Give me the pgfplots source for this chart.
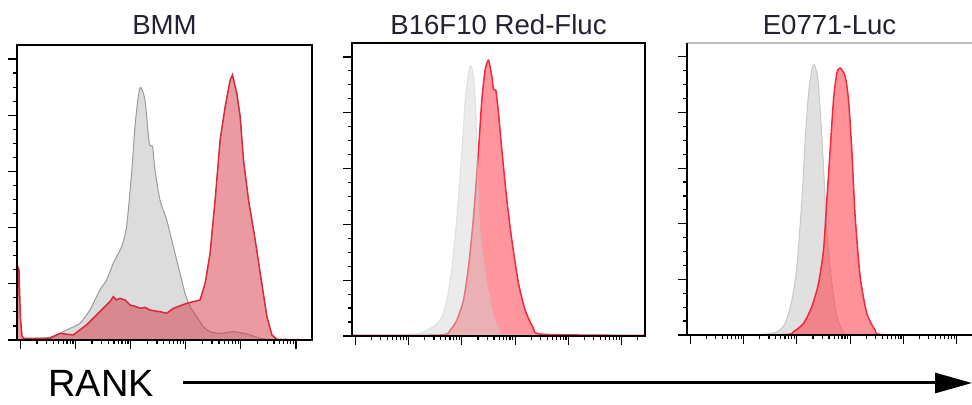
\documentclass[border=0pt]{standalone}
\usepackage{pgfplots}
\pgfplotsset{compat=1.18}
\usepackage{fontspec}
\setmainfont{Liberation Sans}
\usetikzlibrary{arrows.meta}

\definecolor{redA}{HTML}{D93545}
\definecolor{redLineA}{HTML}{D42A3A}
\definecolor{grayA}{HTML}{DCDCDC}
\definecolor{grayLineA}{HTML}{9A9A9A}
\definecolor{redB}{HTML}{FF959D}
\definecolor{redLineB}{HTML}{F02A3C}
\definecolor{grayB}{HTML}{D2D2D2}
\definecolor{grayLineB}{HTML}{C8C8C8}
\definecolor{redC}{HTML}{FF3746}
\definecolor{grayC}{HTML}{E0E0E0}
\definecolor{titlecol}{HTML}{222233}

\pgfplotsset{
  flow/.style={
    scale only axis, anchor=south west,
    clip mode=individual,
    ymin=0, ymax=105,
    axis on top,
    xtick={0,...,5},
    minor xtick={0.301,0.477,0.602,0.699,0.778,0.845,0.903,0.954,
                 1.301,1.477,1.602,1.699,1.778,1.845,1.903,1.954,
                 2.301,2.477,2.602,2.699,2.778,2.845,2.903,2.954,
                 3.301,3.477,3.602,3.699,3.778,3.845,3.903,3.954,
                 4.301,4.477,4.602,4.699,4.778,4.845,4.903,4.954,5.301},
    ytick={0,20,...,100},
    minor ytick={5,10,15,25,30,35,45,50,55,65,70,75,85,90,95},
    xticklabels={}, yticklabels={},
    xtick pos=bottom, ytick pos=left,
    tick align=outside,
    major tick length=4.5pt, minor tick length=2.2pt,
    every tick/.style={black, line width=0.6pt},
    axis line style={line width=0.8pt},
  },
}
\tikzset{ttl/.style={anchor=base, font=\fontsize{13.8}{16}\selectfont, text=titlecol}}

\begin{document}
\begin{tikzpicture}
\path[use as bounding box] (0,0) rectangle (486pt,202.5pt);

% BMM
\begin{axis}[flow, at={(8.5pt,32.5pt)}, width=147.5pt, height=147.5pt,
  xmin=-0.061, xmax=5.291]
\addplot[smooth, tension=0.4, fill=grayA, draw=grayLineA, line width=0.5pt] coordinates {
(-0.061,0) (0,0.24) (0.533,0.95) (0.836,3.56) (1.079,5.93) (1.261,10.68) (1.442,17.80)
(1.564,21.36) (1.685,27.29) (1.836,33.22) (1.927,40.34) (2.018,59.32) (2.079,75.93)
(2.139,86.61) (2.182,89.93) (2.261,85.42) (2.339,70.0) (2.400,68.81) (2.442,60.51)
(2.533,49.83) (2.655,42.71) (2.776,33.22) (2.897,23.73) (2.988,16.61) (3.079,11.86)
(3.2,8.30) (3.321,4.75) (3.442,2.97) (3.624,2.37) (3.867,2.97) (4.109,2.14) (4.291,0.95)
(4.473,0.24) (5.291,0)} \closedcycle;
\addplot[fill=redA, fill opacity=0.5, draw=redLineA, line width=0.75pt] coordinates {
(-0.061,0) (-0.045,26) (-0.025,25) (0.0,8) (0.03,1.5) (0.06,0.6) (0.533,0.6) (0.715,2.37)
(0.958,1.78) (1.2,5.34) (1.442,10.08) (1.624,13.64) (1.685,15.42) (1.74,14.3) (1.806,14.83)
(1.897,14.24) (1.95,13.3) (1.988,12.46) (2.08,12.0) (2.170,11.27) (2.26,11.6) (2.352,10.68)
(2.45,10.3) (2.533,10.08) (2.655,9.49) (2.776,11.27) (2.9,12.2) (3.018,13.05) (3.261,14.24)
(3.352,20.17) (3.442,30.85) (3.533,49.83) (3.624,71.18) (3.715,83.05) (3.806,92.54)
(3.848,94.32) (3.927,87.79) (3.988,79.49) (4.048,64.07) (4.139,49.83) (4.261,35.59)
(4.352,23.73) (4.473,8.30) (4.564,1.78) (4.655,0.24) (5.291,0)} \closedcycle;
\node[ttl] at (rel axis cs:0.5,1) [yshift=5pt] {BMM};
\end{axis}

% B16F10 Red-Fluc
\begin{axis}[flow, at={(176pt,34.5pt)}, width=146.5pt, height=146.5pt,
  xmin=-0.0625, xmax=5.4375]
\addplot[smooth, tension=0.4, fill=redB, draw=redLineB, line width=0.75pt] coordinates {
(-0.0625,0.2) (1.594,0.36) (1.781,2.15) (1.906,5.74) (2.031,12.92) (2.125,24.87)
(2.219,42.81) (2.3125,66.73) (2.375,84.67) (2.4375,95.43) (2.5,98.78) (2.5625,93.04)
(2.594,88.26) (2.6375,88.02) (2.6875,79.89) (2.75,66.73) (2.844,48.79) (2.9375,34.44)
(3.0625,18.9) (3.1875,9.33) (3.344,2.75) (3.531,0.6) (5.4375,0.2)} \closedcycle;
\addplot[smooth, tension=0.4, fill=grayB, draw=grayLineB, opacity=0.45, line width=0.5pt] coordinates {
(-0.0625,0.2) (1.094,0.6) (1.406,2.75) (1.594,5.74) (1.719,12.92) (1.8125,24.87)
(1.906,42.81) (2.0,66.73) (2.0625,84.67) (2.125,94.24) (2.169,96.87) (2.219,93.04)
(2.2625,81.08) (2.294,60.75) (2.344,36.83) (2.469,18.9) (2.594,6.94) (2.719,1.55)
(2.906,0.36) (5.4375,0.2)} \closedcycle;
\node[ttl] at (rel axis cs:0.5,1) [yshift=4pt] {B16F10 Red-Fluc};
\end{axis}

% E0771-Luc
\begin{axis}[flow, at={(343.5pt,35pt)}, width=142.5pt, height=146pt,
  xmin=-0.0625, xmax=5.2875,
  axis x line=bottom, axis y line=left, axis line style={-, line width=0.8pt},
  tick align=outside]
\addplot[smooth, tension=0.4, fill=grayC, draw=grayLineB, line width=0.5pt] coordinates {
(-0.0625,0) (1.3125,0.24) (1.625,1.2) (1.781,4.2) (1.906,12.6) (2.0,24.6) (2.094,48.6)
(2.156,70.2) (2.219,87) (2.281,95.4) (2.325,97.2) (2.3875,93) (2.4375,81) (2.5,60.6)
(2.5625,36.6) (2.656,18.6) (2.75,6.6) (2.875,1.2) (3.0625,0.12) (5.2875,0)} \closedcycle;
\addplot[smooth, tension=0.4, fill=redC, fill opacity=0.55, draw=redLineB, line width=0.75pt] coordinates {
(-0.0625,0) (1.75,0.12) (1.9375,1.2) (2.125,4.2) (2.281,10.2) (2.406,18.6) (2.5,30.6)
(2.5625,48.6) (2.625,66.6) (2.6875,84.6) (2.75,94.2) (2.8125,96) (2.906,93) (2.969,84.6)
(3.031,66.6) (3.094,42.6) (3.1875,21) (3.3125,7.8) (3.469,1.8) (3.625,0.12) (5.2875,0)} \closedcycle;
\draw[grayC!85!black, line width=1.3pt] (rel axis cs:0,1) -- (rel axis cs:1,1);
\node[ttl] at (rel axis cs:0.5,1) [yshift=4pt] {E0771-Luc};
\end{axis}

\node[anchor=base west, inner sep=0pt, font=\fontsize{19}{22}\selectfont] at (24pt,4.2pt) {RANK};
\draw[line width=1.5pt, -{Triangle[length=18.5pt,width=10pt]}] (91.5pt,11pt) -- (486pt,11pt);
\end{tikzpicture}
\end{document}
